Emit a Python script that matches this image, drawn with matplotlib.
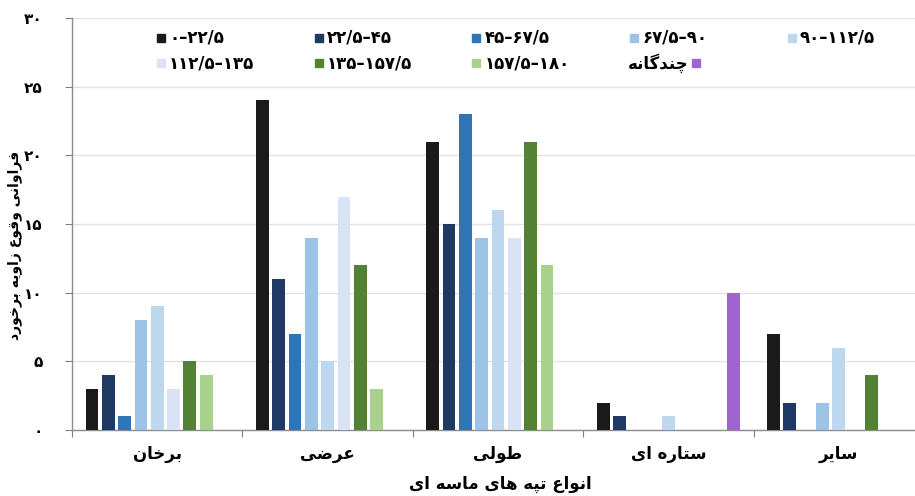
import matplotlib
matplotlib.use("Agg")
import matplotlib.pyplot as plt
from matplotlib.patches import Rectangle
import numpy as np

# ---------------- data ----------------
categories = ["برخان", "عرضی", "طولی", "ستاره ای", "سایر"]
series_labels = ["۰–۲۲/۵", "۲۲/۵–۴۵", "۴۵–۶۷/۵", "۶۷/۵–۹۰", "۹۰–۱۱۲/۵",
                 "۱۱۲/۵–۱۳۵", "۱۳۵–۱۵۷/۵", "۱۵۷/۵–۱۸۰", "چندگانه"]
s_0_22 = [3, 24, 21, 2, 7]
s_22_45 = [4, 11, 15, 1, 2]
s_45_67 = [1, 7, 23, 0, 0]
s_67_90 = [8, 14, 14, 0, 2]
s_90_112 = [9, 5, 16, 1, 6]
s_112_135 = [3, 17, 14, 0, 0]
s_135_157 = [5, 12, 21, 0, 4]
s_157_180 = [4, 3, 12, 0, 0]
s_multi = [0, 0, 0, 10, 0]
y_ticks = [0, 5, 10, 15, 20, 25, 30]
y_tick_labels = ["۰", "۵", "۱۰", "۱۵", "۲۰", "۲۵", "۳۰"]
x_title = "انواع تپه های ماسه ای"
y_title = "فراوانی وقوع زاویه برخورد"

series = [s_0_22, s_22_45, s_45_67, s_67_90, s_90_112,
          s_112_135, s_135_157, s_157_180, s_multi]
colors = ["#1a1a1a", "#1f3864", "#2e75b6", "#9dc3e6", "#bdd7ee",
          "#dae3f3", "#548235", "#a9d18e", "#a064d0"]

# ------------- minimal Persian shaping (no bidi lib available) -------------
FORMS = {
    'ا': (0xFE8D, 0xFE8E, None, None),
    'ب': (0xFE8F, 0xFE90, 0xFE91, 0xFE92),
    'پ': (0xFB56, 0xFB57, 0xFB58, 0xFB59),
    'ت': (0xFE95, 0xFE96, 0xFE97, 0xFE98),
    'خ': (0xFEA5, 0xFEA6, 0xFEA7, 0xFEA8),
    'چ': (0xFB7A, 0xFB7B, 0xFB7C, 0xFB7D),
    'د': (0xFEA9, 0xFEAA, None, None),
    'ر': (0xFEAD, 0xFEAE, None, None),
    'ز': (0xFEAF, 0xFEB0, None, None),
    'س': (0xFEB1, 0xFEB2, 0xFEB3, 0xFEB4),
    'ض': (0xFEBD, 0xFEBE, 0xFEBF, 0xFEC0),
    'ط': (0xFEC1, 0xFEC2, 0xFEC3, 0xFEC4),
    'ع': (0xFEC9, 0xFECA, 0xFECB, 0xFECC),
    'ف': (0xFED1, 0xFED2, 0xFED3, 0xFED4),
    'ق': (0xFED5, 0xFED6, 0xFED7, 0xFED8),
    'گ': (0xFB92, 0xFB93, 0xFB94, 0xFB95),
    'ل': (0xFEDD, 0xFEDE, 0xFEDF, 0xFEE0),
    'م': (0xFEE1, 0xFEE2, 0xFEE3, 0xFEE4),
    'ن': (0xFEE5, 0xFEE6, 0xFEE7, 0xFEE8),
    'ه': (0xFEE9, 0xFEEA, 0xFEEB, 0xFEEC),
    'و': (0xFEED, 0xFEEE, None, None),
    'ی': (0xFBFC, 0xFBFD, 0xFBFE, 0xFBFF),
}


def shape(text):
    out = []
    n = len(text)
    for i, c in enumerate(text):
        if c not in FORMS:
            out.append(c)
            continue
        iso, fin, ini, med = FORMS[c]
        prev = text[i - 1] if i > 0 else None
        nxt = text[i + 1] if i < n - 1 else None
        join_prev = prev in FORMS and FORMS[prev][2] is not None
        join_next = ini is not None and nxt in FORMS
        if join_prev and join_next:
            cp = med
        elif join_prev:
            cp = fin
        elif join_next:
            cp = ini
        else:
            cp = iso
        out.append(chr(cp))
    return "".join(out)[::-1]


plt.rcParams['font.family'] = ['DejaVu Sans']
plt.rcParams['font.weight'] = 'bold'

W, H = 915, 496
fig = plt.figure(figsize=(W / 100, H / 100), dpi=100)
ax_left, ax_right, ax_top, ax_bot = 72, 924, 18, 430
ax = fig.add_axes([ax_left / W, 1 - ax_bot / H, (ax_right - ax_left) / W,
                   (ax_bot - ax_top) / H])

x = np.arange(len(categories))
step = 0.0957
width = 0.075
for k, (vals, col) in enumerate(zip(series, colors)):
    ax.bar(x + (k - 4) * step, vals, width=width, color=col, zorder=3)

ax.set_xlim(-0.5, len(categories) - 0.5)
ax.set_ylim(0, 30)
ax.set_yticks(y_ticks)
ax.set_yticklabels(y_tick_labels, fontsize=11, fontweight='bold')
ax.yaxis.grid(True, color="#e3e3e3", linewidth=1, zorder=0)

ax.set_xticks(np.arange(len(categories)) - 0.5)
ax.set_xticklabels([])
ax.set_xticks(x, minor=True)
ax.set_xticklabels([shape(c) for c in categories], minor=True,
                   fontsize=12, fontweight='bold')
ax.tick_params(axis='x', which='minor', length=0, pad=11)
ax.tick_params(axis='x', which='major', length=5, color="#7f7f7f", direction='out')
ax.tick_params(axis='y', length=5, color="#7f7f7f", direction='out', pad=16)

for s in ['top', 'right']:
    ax.spines[s].set_visible(False)
for s in ['left', 'bottom']:
    ax.spines[s].set_color("#8c8c8c")
    ax.spines[s].set_linewidth(1)

fig.text(500 / W, 1 - 484 / H, shape(x_title), ha='center', va='center',
         fontsize=12, fontweight='bold')
fig.text(15 / W, 1 - 245 / H, shape(y_title), ha='center', va='center',
         rotation=90, fontsize=10, fontweight='bold')

# ---------------- legend (manual, Excel-like RTL placement) ----------------
col_x0, col_dx = 157, 157.7
row_y = [38, 63]
msz = 8
for k, (lab, col) in enumerate(zip(series_labels, colors)):
    r, c = divmod(k, 5)
    mx = col_x0 + c * col_dx
    my = row_y[r]
    if k < 8:
        fig.patches.append(Rectangle((mx / W, 1 - (my + msz / 2) / H), msz / W, msz / H,
                                     transform=fig.transFigure, color=col))
        fig.text((mx + msz + 4) / W, 1 - my / H, lab, ha='left', va='center',
                 fontsize=12, fontweight='bold')
    else:
        fig.patches.append(Rectangle(((mx + 62) / W, 1 - (my + msz / 2) / H), msz / W, msz / H,
                                     transform=fig.transFigure, color=col))
        fig.text((mx + 58) / W, 1 - my / H, shape(lab), ha='right', va='center',
                 fontsize=12, fontweight='bold')

fig.savefig("out.png", dpi=100)
